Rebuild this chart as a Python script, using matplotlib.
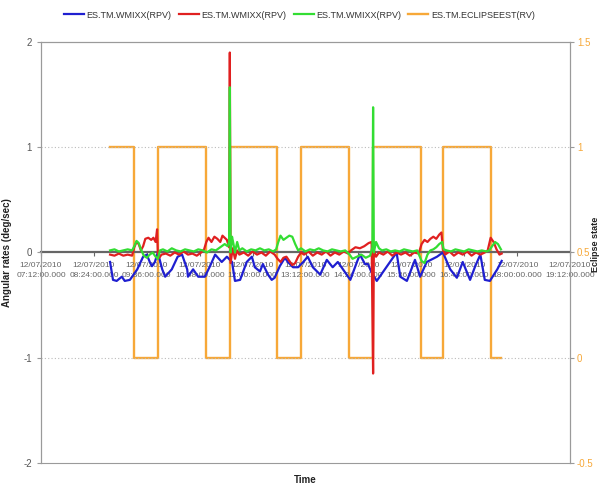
import matplotlib
matplotlib.use("Agg")
import matplotlib.pyplot as plt

plt.rcParams['font.family'] = ['Liberation Sans Narrow', 'Liberation Sans', 'DejaVu Sans']

# time axis: minutes since 12/07/2010 07:12:00
tick_minutes = [0, 72, 144, 216, 288, 360, 432, 504, 576, 648, 720]
tick_labels = ["12/07/2010\n07:12:00.000", "12/07/2010\n08:24:00.000", "12/07/2010\n09:36:00.000",
               "12/07/2010\n10:48:00.000", "12/07/2010\n12:00:00.000", "12/07/2010\n13:12:00.000",
               "12/07/2010\n14:24:00.000", "12/07/2010\n15:36:00.000", "12/07/2010\n16:48:00.000",
               "12/07/2010\n18:00:00.000", "12/07/2010\n19:12:00.000"]

series_names = ["ES.TM.WMIXX(RPV)", "ES.TM.WMIXX(RPV)", "ES.TM.WMIXX(RPV)", "ES.TM.ECLIPSEEST(RV)"]

blue_t = [94, 98, 103, 110, 114, 121, 131, 139, 144, 148, 151, 155, 159, 165, 169, 178, 186, 192,
          199, 200, 207, 214, 223, 230, 237, 246, 253, 260, 264, 271, 280, 287, 291, 298, 302, 309,
          314, 318, 325, 332, 336, 343, 350, 357, 363, 370, 380, 389, 397, 404, 414, 421, 430, 434,
          441, 445, 450, 457, 468, 475, 484, 489, 498, 509, 516, 525, 539, 547, 557, 566, 574, 584,
          591, 598, 604, 611, 621, 627]
blue_v = [-0.09, -0.26, -0.27, -0.23, -0.27, -0.26, -0.16, -0.04, -0.02, -0.09, -0.13, -0.09, 0.0,
          -0.16, -0.23, -0.16, -0.04, -0.02, -0.16, -0.23, -0.16, -0.23, -0.23, -0.13, -0.02, -0.09,
          -0.04, -0.09, -0.27, -0.26, -0.09, -0.04, -0.14, -0.18, -0.11, -0.21, -0.26, -0.24, -0.13,
          -0.05, -0.09, -0.14, -0.14, -0.09, -0.04, -0.14, -0.21, -0.07, -0.14, -0.09, -0.19, -0.26,
          -0.09, -0.02, -0.11, -0.11, -0.19, -0.27, -0.16, -0.09, 0.0, -0.23, -0.27, -0.07, -0.23,
          -0.09, -0.04, 0.0, -0.16, -0.24, -0.09, -0.26, -0.13, -0.02, -0.26, -0.27, -0.16, -0.08]

red_t = [94, 100, 106, 112, 118, 124, 127, 130, 133, 136, 139, 142, 146, 150, 153, 156, 158, 159,
         161, 164, 170, 176, 182, 188, 194, 200, 206, 212, 218, 222, 225, 228, 232, 236, 240, 244,
         247, 250, 253, 256, 257, 258, 261, 264, 267, 270, 276, 282, 288, 294, 300, 306, 312, 318,
         322, 326, 330, 334, 338, 342, 346, 350, 354, 358, 364, 370, 376, 382, 388, 394, 400, 406,
         412, 418, 422, 428, 434, 440, 446, 450, 452, 453, 456, 460, 466, 472, 478, 484, 490, 496,
         502, 508, 514, 518, 522, 526, 530, 534, 538, 542, 545, 547, 550, 556, 562, 568, 574, 580,
         586, 592, 598, 604, 608, 612, 616, 620, 624, 627]
red_v = [-0.02, -0.03, -0.01, -0.03, -0.02, -0.03, 0.05, 0.1, 0.08, 0.02, 0.06, 0.13, 0.14, 0.12,
         0.14, 0.1, 0.22, 0.0, -0.05, -0.02, -0.01, -0.03, 0.0, -0.02, 0.01, -0.02, -0.01, -0.03,
         0.0, 0.03, 0.1, 0.14, 0.1, 0.15, 0.13, 0.1, 0.16, 0.14, 0.12, 0.05, 1.9, -0.1, 0.04, -0.06,
         0.02, -0.02, 0.0, -0.03, 0.01, -0.02, 0.0, -0.03, 0.01, -0.02, -0.06, -0.09, -0.05, -0.04,
         -0.08, -0.12, -0.1, -0.04, 0.0, -0.02, 0.01, -0.03, 0.0, -0.02, 0.01, -0.03, 0.0, -0.02,
         0.01, -0.01, 0.02, 0.05, 0.04, 0.06, 0.09, 0.1, -1.15, 0.02, -0.04, 0.0, -0.02, 0.01, -0.03,
         0.0, -0.02, 0.0, -0.03, 0.0, -0.01, 0.08, 0.12, 0.1, 0.13, 0.15, 0.13, 0.17, 0.19, 0.03,
         -0.02, 0.01, -0.03, 0.0, -0.02, 0.01, -0.03, 0.0, -0.02, 0.0, 0.02, 0.14, 0.1, 0.03, -0.02,
         -0.01]

green_t = [94, 100, 106, 112, 118, 124, 127, 130, 133, 136, 140, 144, 148, 152, 156, 159, 162, 166,
           172, 178, 184, 190, 196, 202, 208, 214, 220, 226, 232, 238, 244, 250, 254, 256, 257, 258,
           260, 262, 264, 267, 270, 274, 280, 286, 292, 298, 304, 310, 316, 320, 323, 326, 330, 334,
           338, 342, 346, 350, 354, 360, 366, 372, 378, 384, 390, 396, 402, 408, 414, 420, 424, 430,
           436, 442, 448, 451, 452, 453, 456, 460, 464, 470, 476, 482, 488, 494, 500, 506, 512, 518,
           522, 526, 530, 534, 538, 542, 546, 548, 552, 558, 564, 570, 576, 582, 588, 594, 600, 606,
           610, 614, 618, 622, 626]
green_v = [0.02, 0.03, 0.01, 0.02, 0.03, 0.02, 0.06, 0.11, 0.09, 0.03, -0.03, -0.05, -0.02, 0.0,
           -0.04, -0.06, 0.02, 0.03, 0.01, 0.04, 0.02, 0.01, 0.03, 0.02, 0.01, 0.03, 0.02, 0.0, 0.03,
           0.02, 0.05, 0.08, 0.06, 0.1, 1.57, 0.0, 0.15, 0.08, 0.0, 0.1, 0.02, 0.04, 0.01, 0.03, 0.02,
           0.04, 0.02, 0.03, 0.01, 0.03, 0.1, 0.16, 0.12, 0.14, 0.16, 0.15, 0.08, 0.02, 0.04, 0.01,
           0.03, 0.02, 0.04, 0.02, 0.01, 0.03, 0.02, 0.01, 0.02, -0.02, -0.06, -0.04, -0.02, -0.05,
           -0.03, 0.05, 1.38, 0.0, 0.1, 0.04, 0.02, 0.03, 0.01, 0.02, 0.01, 0.03, 0.02, 0.01, 0.02,
           -0.08, -0.1, -0.02, 0.02, 0.03, 0.05, 0.08, 0.1, 0.03, 0.02, 0.01, 0.03, 0.02, 0.01, 0.03,
           0.02, 0.01, 0.02, 0.01, 0.02, 0.06, 0.1, 0.08, 0.03]

eclipse_t = [94, 126, 159, 224, 257, 321, 354, 419, 452, 517, 547, 612, 626]
eclipse_v = [1, 0, 1, 0, 1, 0, 1, 0, 1, 0, 1, 0, 0]

c_blue, c_red, c_green, c_orange = "#1f1fd0", "#e02020", "#33dd33", "#f7a838"
gray_txt = "#555555"
frame = "#9a9a9a"

fig = plt.figure(figsize=(5.99, 4.88), dpi=100)
ax = fig.add_axes([41/599, 1-463/488, 529/599, 421/488])
ax2 = ax.twinx()
ax.set_zorder(ax2.get_zorder() + 1)
ax.patch.set_visible(False)

ax.set_xlim(0, 720)
ax.set_ylim(-2, 2)
ax2.set_ylim(-0.5, 1.5)

for y in (1, -1):
    ax.axhline(y, color="#bbbbbb", lw=0.8, ls=(0, (1, 2)), zorder=0)

l1, = ax.plot(blue_t, blue_v, color=c_blue, lw=1.6, zorder=3)
l2, = ax.plot(red_t, red_v, color=c_red, lw=1.6, zorder=4)
l3, = ax.plot(green_t, green_v, color=c_green, lw=1.6, zorder=5)
l4, = ax2.plot(eclipse_t, eclipse_v, color=c_orange, lw=1.7, drawstyle="steps-post")

# frame
for s in ("left", "right", "top"):
    ax.spines[s].set_color(frame)
    ax2.spines[s].set_color(frame)
ax.spines["bottom"].set_position(("data", 0))
ax.spines["bottom"].set_color("#666666")
ax.spines["bottom"].set_linewidth(1.6)
ax2.spines["bottom"].set_color(frame)
ax.spines["bottom"].set_zorder(1)

ax.set_xticks(tick_minutes)
ax.set_xticklabels(tick_labels, fontsize=6, color="#666666", linespacing=1.5)
ax.tick_params(axis="x", length=3, color="#666666", pad=4)
ax.set_yticks([-2, -1, 0, 1, 2])
ax.set_yticklabels(["-2", "-1", "0", "1", "2"])
ax.tick_params(axis="y", labelsize=7, colors=gray_txt, length=3)
ax.tick_params(axis="y", color=frame)
ax2.set_yticks([-0.5, 0, 0.5, 1, 1.5])
ax2.set_yticklabels(["-0.5", "0", "0.5", "1", "1.5"])
ax2.tick_params(axis="y", labelsize=7, labelcolor=c_orange, color=frame, length=3, pad=2)

ax.set_ylabel("Angular rates (deg/sec)", fontsize=7, fontweight="bold", color="#222222")
ax.yaxis.set_label_coords(-0.055, 0.5)
fig.text(0.51, 0.006, "Time", fontsize=7, fontweight="bold", color="#222222", ha="center", va="bottom")
fig.text(0.9935, 0.5, "Eclipse state", fontsize=6.5, fontweight="bold", color="#222222",
         rotation=90, ha="center", va="center")

fig.legend([l1, l2, l3, l4], series_names, loc="upper center", bbox_to_anchor=(0.5, 0.995),
           ncol=4, frameon=False, fontsize=6.5, handlelength=2.2, handletextpad=0.3,
           columnspacing=0.8, labelcolor="#333333")

fig.savefig("out.png", dpi=100)
